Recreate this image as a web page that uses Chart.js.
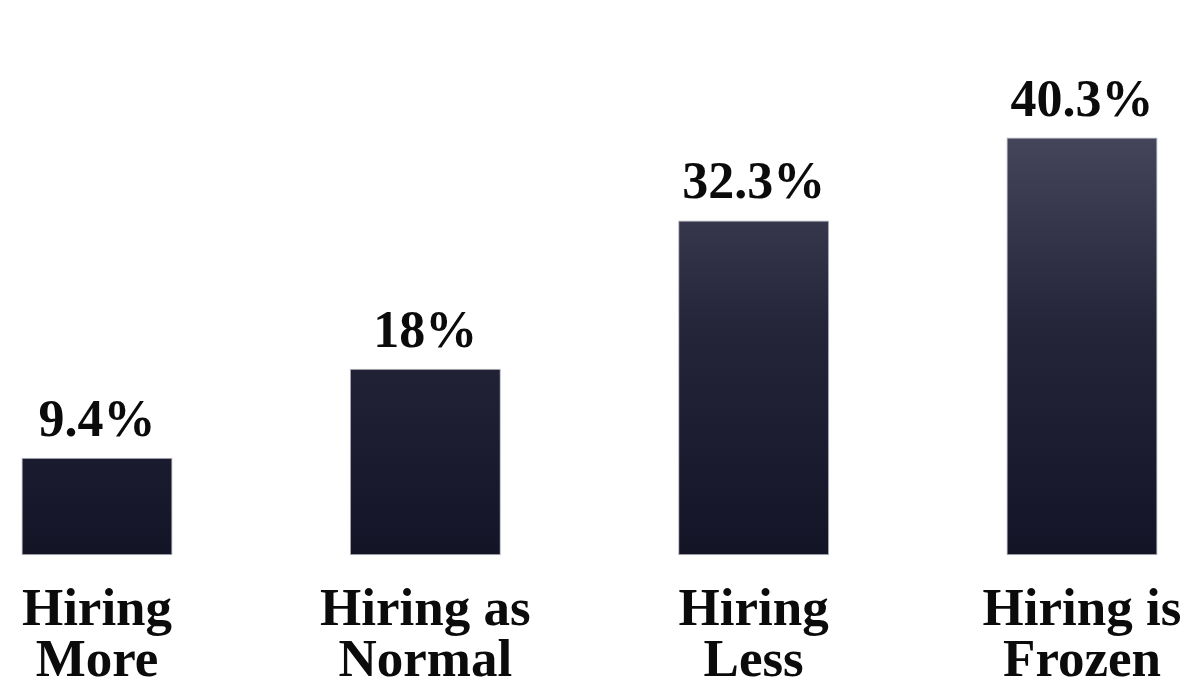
<!DOCTYPE html>
<html>
<head>
<meta charset="utf-8">
<title>Hiring plans</title>
<script src="https://cdn.jsdelivr.net/npm/chart.js@4.4.1/dist/chart.umd.min.js"></script>
<style>
  html, body { margin: 0; padding: 0; background: #fff; }
  #wrap { width: 1184px; height: 681px; position: relative; }
</style>
</head>
<body>
<div id="wrap"><canvas id="ctx"></canvas></div>
<script>
// categories and shares (%)
const categories = [
  ['Hiring', 'More'],
  ['Hiring as', 'Normal'],
  ['Hiring', 'Less'],
  ['Hiring is', 'Frozen']
];
const shares = [9.4, 18, 32.3, 40.3];

const FONT = '"Liberation Serif", "Times New Roman", serif';

// each bar gets its own top-to-bottom gradient
const barGradient = {
  id: 'barGradient',
  beforeDatasetsDraw(chart) {
    const g = chart.ctx;
    chart.getDatasetMeta(0).data.forEach(bar => {
      const grad = g.createLinearGradient(0, bar.y, 0, bar.base);
      grad.addColorStop(0, '#44445a');
      grad.addColorStop(0.45, '#25253a');
      grad.addColorStop(1, '#141427');
      bar.options.backgroundColor = grad;
    });
  }
};

// percentage above each bar
const valueLabels = {
  id: 'valueLabels',
  afterDatasetsDraw(chart) {
    const g = chart.ctx;
    g.save();
    g.font = 'bold 52px ' + FONT;
    g.fillStyle = '#0b0b0b';
    g.textAlign = 'center';
    g.textBaseline = 'alphabetic';
    chart.getDatasetMeta(0).data.forEach((bar, i) => {
      g.fillText(shares[i] + '%', bar.x, bar.y - 22);
    });
    g.restore();
  }
};

new Chart(document.getElementById('ctx'), {
  type: 'bar',
  data: {
    labels: categories,
    datasets: [{
      data: shares,
      backgroundColor: '#25253a',
      borderColor: 'rgba(150,150,165,0.7)',
      borderWidth: 1,
      borderSkipped: false,
      barPercentage: 0.92,
      categoryPercentage: 0.5,
      clip: false
    }]
  },
  options: {
    responsive: true,
    maintainAspectRatio: false,
    animation: false,
    layout: { padding: { left: 97, right: 102, top: 37, bottom: -29 } },
    plugins: {
      legend: { display: false },
      tooltip: { enabled: false }
    },
    scales: {
      y: {
        display: false,
        min: 0,
        max: 50
      },
      x: {
        offset: false,
        grid: { display: false },
        border: { display: false },
        // labels may hang past the plot edges, don't reserve room for them
        afterFit(scale) {
          scale.paddingLeft = 0;
          scale.paddingRight = 0;
        },
        ticks: {
          color: '#0b0b0b',
          padding: 22,
          maxRotation: 0,
          autoSkip: false,
          font: { family: FONT, size: 53, weight: 'bold', lineHeight: 0.97 }
        }
      }
    }
  },
  plugins: [barGradient, valueLabels]
});
</script>
</body>
</html>
